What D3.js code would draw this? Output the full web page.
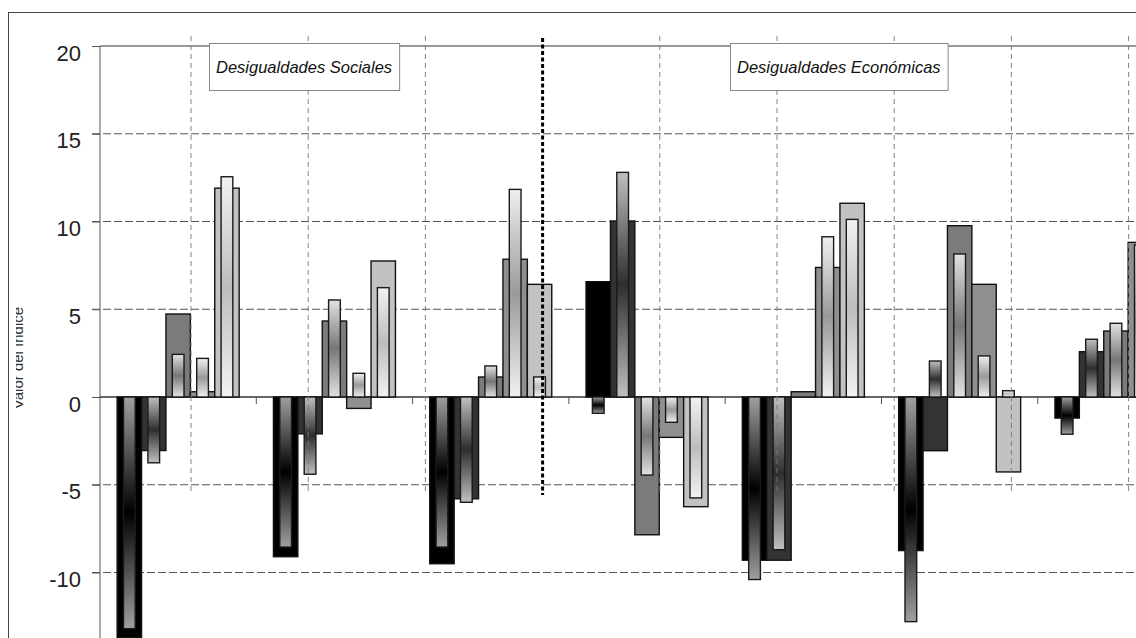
<!DOCTYPE html>
<html>
<head>
<meta charset="utf-8">
<script src="https://cdn.jsdelivr.net/npm/d3@7"></script>
<style>
  body { margin: 0; overflow: hidden; background: #fff; }
  svg { display: block; font-family: "Liberation Sans", Arial, sans-serif; }
</style>
</head>
<body>
<script>
// Width and height of svg
var w = 1136;
var h = 638;

// Categories (x axis labels are cut off below the visible area)
var categories = ["G1", "G2", "G3", "G4", "G5", "G6", "G7"];

// Wide bars, one array per series (value per category)
var wide0 = [-13.7, -9.1, -9.5, 6.57, -9.3, -8.75, -1.2];
var wide1 = [-3.05, -2.1, -5.8, 10.03, -9.3, -3.06, 2.58];
var wide2 = [4.73, 4.33, 1.14, -7.85, 0.3, 9.76, 3.76];
var wide3 = [0.3, -0.65, 7.85, -2.3, 7.38, 6.42, 8.81];
var wide4 = [11.9, 7.75, 6.42, -6.25, 11.04, -4.27, null];

// Narrow bars drawn inside the wide ones
var inner0 = [-13.2, -8.55, -8.55, -0.93, -10.4, -12.8, -2.12];
var inner1 = [-3.75, -4.4, -6.0, 12.8, -8.7, 2.05, 3.29];
var inner2 = [2.43, 5.53, 1.77, -4.45, 0, 8.15, 4.2];
var inner3 = [2.2, 1.35, 11.83, -1.44, 9.13, 2.34, 8.66];
var inner4 = [12.55, 6.23, 1.14, -5.75, 10.12, 0.36, null];

// Tick labels on the y axis
var yTicks = [20, 15, 10, 5, 0, -5, -10];
var gridTicks = [15, 10, 5, -5, -10];

// Vertical guide lines (index 3 is the dotted separator)
var guideIdx = [0, 1, 2, 3, 4, 5, 6, 7, 8];
var separatorIdx = 3;

// Annotation boxes
var notes = ["Desigualdades Sociales", "Desigualdades Económicas"];

var wideSeries = [wide0, wide1, wide2, wide3, wide4];
var innerSeries = [inner0, inner1, inner2, inner3, inner4];

// Fill colours of the wide bars and the axial gradient colours of the inner bars
var wideColors = ["#000000", "#333333", "#7b7b7b", "#8f8f8f", "#c2c2c2"];
var gradEnds = ["#a0a0a0", "#c0c0c0", "#e2e2e2", "#f0f0f0", "#f2f2f2"];
var gradMids = ["#000000", "#2e2e2e", "#777777", "#999999", "#bdbdbd"];

var svg = d3.select("body")
        .append("svg")
        .attr("width", w)
        .attr("height", h);

var defs = svg.append("defs");

gradMids.forEach(function(m, i) {
    var g = defs.append("linearGradient")
        .attr("id", "grad" + i)
        .attr("x1", 0).attr("y1", 0).attr("x2", 0).attr("y2", 1);
    g.append("stop").attr("offset", 0).attr("stop-color", gradEnds[i]);
    g.append("stop").attr("offset", 0.5).attr("stop-color", m);
    g.append("stop").attr("offset", 1).attr("stop-color", gradEnds[i]);
});

defs.append("clipPath").attr("id", "labelClip")
    .append("rect").attr("x", 16).attr("y", 0).attr("width", 40).attr("height", h);

// Outer frame (right and bottom edges fall outside the picture)
svg.append("rect")
    .attr("x", 8.5).attr("y", 12.5)
    .attr("width", w + 50).attr("height", h + 50)
    .attr("fill", "none")
    .attr("stroke", "#444")
    .attr("stroke-width", 1);

// Scales
var y = d3.scaleLinear()
    .domain([-15, 20])
    .range([660.25, 46]);

var x0 = d3.scaleBand()
    .domain(categories)
    .range([100, 100 + 156.3 * categories.length])
    .paddingInner(0.2194)
    .paddingOuter(0.1097);

var x1 = d3.scaleBand()
    .domain(d3.range(wideSeries.length))
    .range([0, x0.bandwidth()]);

var guide = d3.scaleLinear()
    .domain([0, 8])
    .range([191, 1128.6]);

// Horizontal dashed grid
svg.append("g")
    .selectAll("line")
    .data(gridTicks)
    .enter().append("line")
    .attr("x1", 92).attr("x2", w)
    .attr("y1", function(d) { return y(d); })
    .attr("y2", function(d) { return y(d); })
    .attr("stroke", "#555")
    .attr("stroke-width", 1.1)
    .attr("stroke-dasharray", "8,3");

// Top line at 20
svg.append("line")
    .attr("x1", 100).attr("x2", w)
    .attr("y1", y(20)).attr("y2", y(20))
    .attr("stroke", "#999")
    .attr("stroke-width", 2.2);

// Y axis
var yAxis = svg.append("g")
    .attr("transform", "translate(100,0)")
    .call(d3.axisLeft(y).tickValues(yTicks).tickSize(8).tickFormat(d3.format("d")));
yAxis.select(".domain")
    .attr("d", "M0," + y(20) + "V" + h)
    .attr("stroke", "#555");
yAxis.selectAll(".tick line").attr("stroke", "#555");
yAxis.selectAll(".tick text")
    .attr("x", -19)
    .attr("dy", null)
    .attr("y", 14)
    .attr("fill", "#222")
    .style("font-size", "22px")
    .style("font-family", "'Liberation Sans', Arial, sans-serif")
    .text(function(d) { return d; });

// Zero line with category ticks
svg.append("line")
    .attr("x1", 100).attr("x2", w)
    .attr("y1", y(0)).attr("y2", y(0))
    .attr("stroke", "#333")
    .attr("stroke-width", 1.5);

svg.append("g")
    .selectAll("line")
    .data(categories.slice(1))
    .enter().append("line")
    .attr("x1", function(d) { return x0(d) - x0.step() * x0.paddingInner() / 2; })
    .attr("x2", function(d) { return x0(d) - x0.step() * x0.paddingInner() / 2; })
    .attr("y1", y(0)).attr("y2", y(0) + 7)
    .attr("stroke", "#555");

// Bars: wide bar then its inner gradient bar, series by series
var innerW = x1.bandwidth() * 0.48;

wideSeries.forEach(function(vals, s) {
    var grp = svg.append("g").attr("class", "series" + s);

    grp.selectAll("rect.wide")
        .data(vals.map(function(v, i) { return {cat: categories[i], v: v}; })
                  .filter(function(d) { return d.v !== null; }))
        .enter().append("rect")
        .attr("class", "wide")
        .attr("x", function(d) { return x0(d.cat) + x1(s); })
        .attr("width", x1.bandwidth())
        .attr("y", function(d) { return y(Math.max(0, d.v)); })
        .attr("height", function(d) { return Math.abs(y(d.v) - y(0)); })
        .attr("fill", wideColors[s])
        .attr("stroke", "#111")
        .attr("stroke-width", 1.4);

    grp.selectAll("rect.inner")
        .data(innerSeries[s].map(function(v, i) { return {cat: categories[i], v: v}; })
                  .filter(function(d) { return d.v !== null && d.v !== 0; }))
        .enter().append("rect")
        .attr("class", "inner")
        .attr("x", function(d) { return x0(d.cat) + x1(s) + (x1.bandwidth() - innerW) / 2; })
        .attr("width", innerW)
        .attr("y", function(d) { return y(Math.max(0, d.v)); })
        .attr("height", function(d) { return Math.abs(y(d.v) - y(0)); })
        .attr("fill", "url(#grad" + s + ")")
        .attr("stroke", "#1a1a1a")
        .attr("stroke-width", 1.4);
});

// Vertical guide lines, drawn over the bars
svg.append("g")
    .selectAll("line")
    .data(guideIdx.filter(function(d) { return d !== separatorIdx; }))
    .enter().append("line")
    .attr("x1", function(d) { return guide(d); })
    .attr("x2", function(d) { return guide(d); })
    .attr("y1", 36).attr("y2", 494)
    .attr("stroke", "#777")
    .attr("stroke-width", 0.9)
    .attr("stroke-dasharray", "5,4");

svg.append("line")
    .attr("x1", guide(separatorIdx)).attr("x2", guide(separatorIdx))
    .attr("y1", 38).attr("y2", 495)
    .attr("stroke", "#000")
    .attr("stroke-width", 3)
    .attr("stroke-dasharray", "4,2.5");

// Annotation boxes
var noteLeft = [209, 730];
notes.forEach(function(t, i) {
    var g = svg.append("g");
    var box = g.append("rect")
        .attr("y", 43.5).attr("height", 47)
        .attr("fill", "#fff")
        .attr("stroke", "#888")
        .attr("stroke-width", 1);
    var txt = g.append("text")
        .attr("y", 73)
        .attr("font-size", "16.5px")
        .attr("font-style", "italic")
        .attr("fill", "#111")
        .text(t);
    var tw = txt.node().getComputedTextLength();
    box.attr("x", noteLeft[i] + 0.5).attr("width", tw + 14);
    txt.attr("x", noteLeft[i] + 7);
});

// Y axis title, mostly cut off at the left edge
svg.append("g")
    .attr("clip-path", "url(#labelClip)")
    .append("text")
    .attr("transform", "translate(23,358) rotate(-90)")
    .attr("text-anchor", "middle")
    .attr("font-size", "15px")
    .attr("fill", "#333")
    .text("Valor del índice");
</script>
</body>
</html>
